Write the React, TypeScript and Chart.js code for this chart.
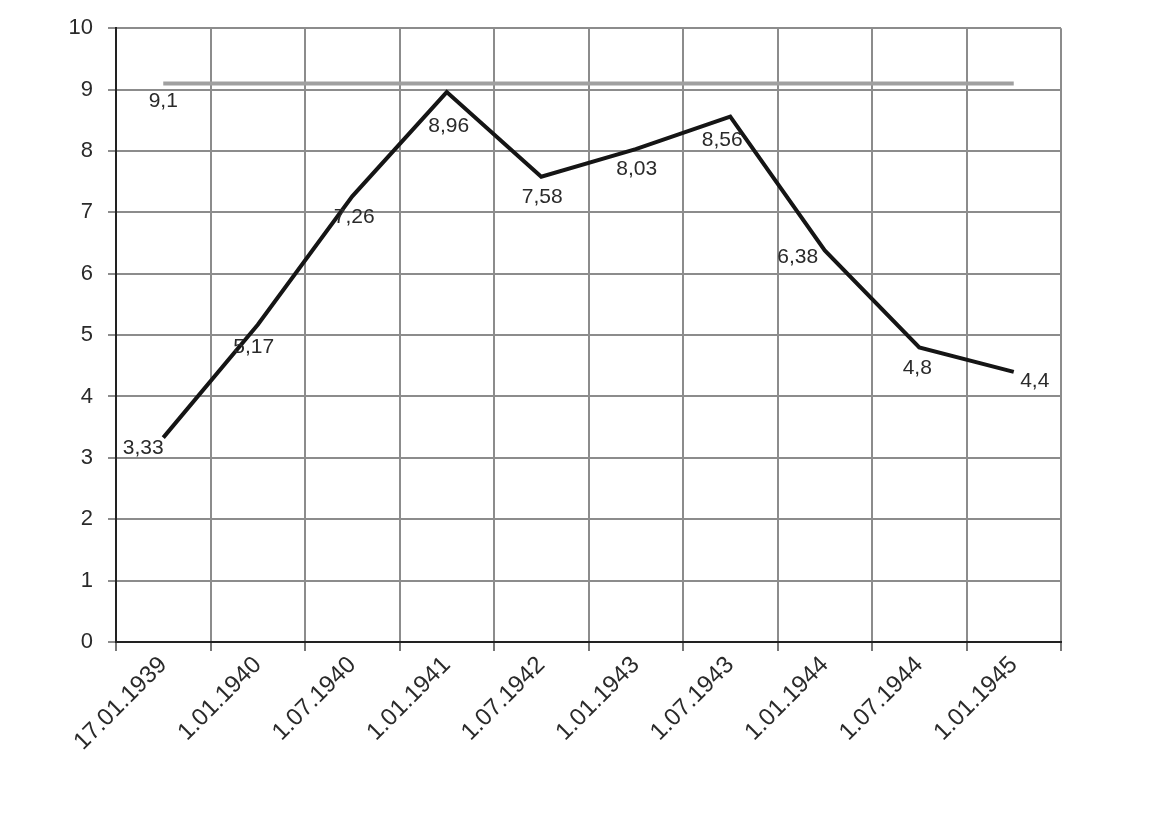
import React, { useEffect, useRef } from "react";
import { Chart, registerables } from "chart.js";

Chart.register(...registerables);

const categories = [
  "17.01.1939",
  "1.01.1940",
  "1.07.1940",
  "1.01.1941",
  "1.07.1942",
  "1.01.1943",
  "1.07.1943",
  "1.01.1944",
  "1.07.1944",
  "1.01.1945",
];

const mainValues = [3.33, 5.17, 7.26, 8.96, 7.58, 8.03, 8.56, 6.38, 4.8, 4.4];
const levelValues = [9.1, 9.1, 9.1, 9.1, 9.1, 9.1, 9.1, 9.1, 9.1, 9.1];
const yTicks = [0, 1, 2, 3, 4, 5, 6, 7, 8, 9, 10];

// label placement offsets (px) relative to each point
const mainLabelOffsets: [number, number][] = [
  [-20, 11],
  [-4, 23],
  [2, 21],
  [2, 34],
  [1, 20],
  [1, 20],
  [-8, 24],
  [-27, 7],
  [-2, 21],
  [21, 9],
];
const levelLabelOffset: [number, number] = [0, 18];

const fmt = (v: number) => String(v).replace(".", ",");

const labelPlugin = {
  id: "pointLabels",
  afterDatasetsDraw(chart: any) {
    const ctx = chart.ctx;
    ctx.save();
    ctx.font = '21px "Liberation Sans", Arial, sans-serif';
    ctx.fillStyle = "#2a2a2a";
    ctx.textAlign = "center";
    ctx.textBaseline = "middle";
    const m0 = chart.getDatasetMeta(0);
    m0.data.forEach((pt: any, i: number) => {
      const [dx, dy] = mainLabelOffsets[i];
      ctx.fillText(fmt(mainValues[i]), pt.x + dx, pt.y + dy);
    });
    const m1 = chart.getDatasetMeta(1);
    const p = m1.data[0];
    ctx.fillText(fmt(levelValues[0]), p.x + levelLabelOffset[0], p.y + levelLabelOffset[1]);
    ctx.restore();
  },
};

export default function App() {
  const ref = useRef<HTMLCanvasElement | null>(null);
  useEffect(() => {
    if (!ref.current) return;
    const chart = new Chart(ref.current, {
      type: "line",
      data: {
        labels: categories,
        datasets: [
          {
            data: mainValues,
            borderColor: "#151515",
            borderWidth: 4,
            pointRadius: 0,
            tension: 0,
            fill: false,
            order: 0,
          },
          {
            data: levelValues,
            borderColor: "#a0a0a0",
            borderWidth: 4,
            pointRadius: 0,
            tension: 0,
            fill: false,
            order: 1,
          },
        ],
      },
      options: {
        animation: false,
        responsive: false,
        maintainAspectRatio: false,
        layout: { padding: { top: 27, right: 108, left: 0, bottom: 0 } },
        plugins: {
          legend: { display: false },
          tooltip: { enabled: false },
          title: { display: false },
        },
        scales: {
          x: {
            type: "category",
            offset: true,
            grid: {
              offset: true,
              color: "#8c8c8c",
              lineWidth: 2,
              tickLength: 9,
              tickColor: "#777",
            },
            border: { color: "#222", width: 2 },
            ticks: {
              autoSkip: false,
              maxRotation: 45,
              minRotation: 45,
              padding: 0,
              color: "#2a2a2a",
              font: { size: 24, family: '"Liberation Sans", Arial, sans-serif' },
            },
            afterFit(scale: any) {
              scale.height = 827 - 642;
            },
          },
          y: {
            min: 0,
            max: 10,
            afterBuildTicks(scale: any) {
              scale.ticks = yTicks.map((v) => ({ value: v }));
            },
            grid: {
              color: "#8c8c8c",
              lineWidth: 2,
              tickLength: 8,
              tickColor: "#8c8c8c",
            },
            border: { color: "#222", width: 2 },
            ticks: {
              padding: 15,
              color: "#2a2a2a",
              font: { size: 22, family: '"Liberation Sans", Arial, sans-serif' },
            },
            afterFit(scale: any) {
              scale.width = 116;
            },
          },
        },
      },
      plugins: [labelPlugin],
    });
    return () => chart.destroy();
  }, []);
  return (
    <div style={{ position: "absolute", left: 0, top: 0, width: 1169, height: 827, background: "#fff" }}>
      <canvas ref={ref} width={1169} height={827} style={{ width: 1169, height: 827, display: "block" }} />
    </div>
  );
}
